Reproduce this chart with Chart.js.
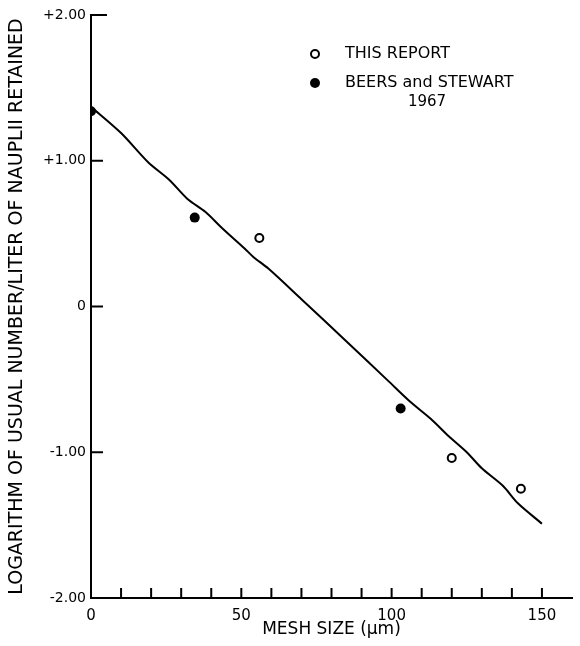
<!DOCTYPE html>
<html>
<head>
<meta charset="utf-8">
<script src="https://cdn.jsdelivr.net/npm/chart.js@4.4.0/dist/chart.umd.min.js"></script>
<style>
  html, body { margin: 0; padding: 0; background: #fff; }
  #wrap { width: 580px; height: 646px; }
</style>
</head>
<body>
<div id="wrap"><canvas id="mesh-chart"></canvas></div>
<script>
const meshThisReport = [56, 120, 143];
const logThisReport = [0.47, -1.04, -1.25];
const meshBeers = [0, 34.5, 103];
const logBeers = [1.34, 0.61, -0.70];
const fitMesh = [0, 10, 19, 26, 32, 38, 44, 51, 54, 59, 70, 85, 98.6, 106, 113, 119, 125, 130, 137, 142, 150];
const fitLog = [1.37, 1.19, 0.99, 0.87, 0.74, 0.65, 0.53, 0.40, 0.34, 0.26, 0.05, -0.24, -0.505, -0.65, -0.77, -0.89, -1.0, -1.11, -1.23, -1.35, -1.49];
const yTicks = [-2, -1, 0, 1, 2];
const xLabelled = [0, 50, 100, 150];

const FONT = "'DejaVu Sans', sans-serif";

function pairs(xs, ys) {
    return xs.map((x, i) => ({ x: x, y: ys[i] }));
}

// inward tick marks + hand-made key
const paperPlugin = {
    id: 'paper',
    afterDraw(chart) {
        const ctx = chart.ctx;
        const xs = chart.scales.x;
        const ys = chart.scales.y;
        const area = chart.chartArea;
        ctx.save();
        ctx.strokeStyle = '#000';
        ctx.lineWidth = 2;
        yTicks.forEach(v => {
            const py = ys.getPixelForValue(v);
            const len = v === 2 ? 16 : 12;
            ctx.beginPath();
            ctx.moveTo(area.left, py);
            ctx.lineTo(area.left + len, py);
            ctx.stroke();
        });
        for (let v = 10; v <= 150; v += 10) {
            const px = xs.getPixelForValue(v);
            ctx.beginPath();
            ctx.moveTo(px, area.bottom);
            ctx.lineTo(px, area.bottom - 10);
            ctx.stroke();
        }

        // key
        ctx.fillStyle = '#000';
        ctx.lineWidth = 2;
        ctx.beginPath();
        ctx.arc(315, 54, 4, 0, Math.PI * 2);
        ctx.stroke();
        ctx.beginPath();
        ctx.arc(315, 83, 5, 0, Math.PI * 2);
        ctx.fill();
        ctx.font = '16px ' + FONT;
        ctx.textBaseline = 'middle';
        ctx.textAlign = 'left';
        ctx.fillText('THIS REPORT', 345, 54);
        ctx.fillText('BEERS and STEWART', 345, 83);
        ctx.font = '15px ' + FONT;
        ctx.textAlign = 'center';
        ctx.fillText('1967', 427, 102);
        ctx.restore();
    }
};

document.addEventListener('DOMContentLoaded', function () {
    const canvas = document.getElementById('mesh-chart');
    new Chart(canvas, {
        type: 'scatter',
        data: {
            datasets: [
                {
                    label: 'fit',
                    data: pairs(fitMesh, fitLog),
                    showLine: true,
                    borderColor: '#000',
                    borderWidth: 2,
                    pointRadius: 0,
                    tension: 0.3
                },
                {
                    label: 'THIS REPORT',
                    data: pairs(meshThisReport, logThisReport),
                    pointRadius: 4,
                    pointBorderWidth: 2,
                    pointBorderColor: '#000',
                    pointBackgroundColor: '#fff'
                },
                {
                    label: 'BEERS and STEWART 1967',
                    data: pairs(meshBeers, logBeers),
                    pointRadius: 5,
                    pointBorderWidth: 0,
                    pointBackgroundColor: '#000',
                    clip: 0
                }
            ]
        },
        options: {
            responsive: true,
            maintainAspectRatio: false,
            animation: false,
            layout: { padding: { top: 15, right: 8, left: 0, bottom: 0 } },
            scales: {
                x: {
                    type: 'linear',
                    min: 0,
                    max: 160,
                    afterFit: s => { s.height = 48; },
                    afterBuildTicks: s => { s.ticks = xLabelled.map(v => ({ value: v })); },
                    grid: { display: false, drawTicks: false },
                    border: { display: true, color: '#000', width: 2 },
                    ticks: {
                        color: '#000',
                        padding: 9,
                        maxRotation: 0,
                        font: { family: FONT, size: 15 }
                    },
                    title: {
                        display: true,
                        text: 'MESH SIZE (μm)',
                        color: '#000',
                        padding: { top: 0, bottom: 6 },
                        font: { family: FONT, size: 17 }
                    }
                },
                y: {
                    min: -2,
                    max: 2,
                    afterFit: s => { s.width = 91; },
                    afterBuildTicks: s => { s.ticks = yTicks.map(v => ({ value: v })); },
                    grid: { display: false, drawTicks: false },
                    border: { display: true, color: '#000', width: 2 },
                    ticks: {
                        color: '#000',
                        padding: 5,
                        font: { family: FONT, size: 14 },
                        callback: v => v > 0 ? '+' + v.toFixed(2) : (v === 0 ? '0' : v.toFixed(2))
                    },
                    title: {
                        display: true,
                        text: 'LOGARITHM OF USUAL NUMBER/LITER OF NAUPLII RETAINED',
                        color: '#000',
                        padding: { top: 6, bottom: 0 },
                        font: { family: FONT, size: 19 }
                    }
                }
            },
            plugins: {
                legend: { display: false },
                tooltip: { enabled: false }
            }
        },
        plugins: [paperPlugin]
    });
});
</script>
</body>
</html>
